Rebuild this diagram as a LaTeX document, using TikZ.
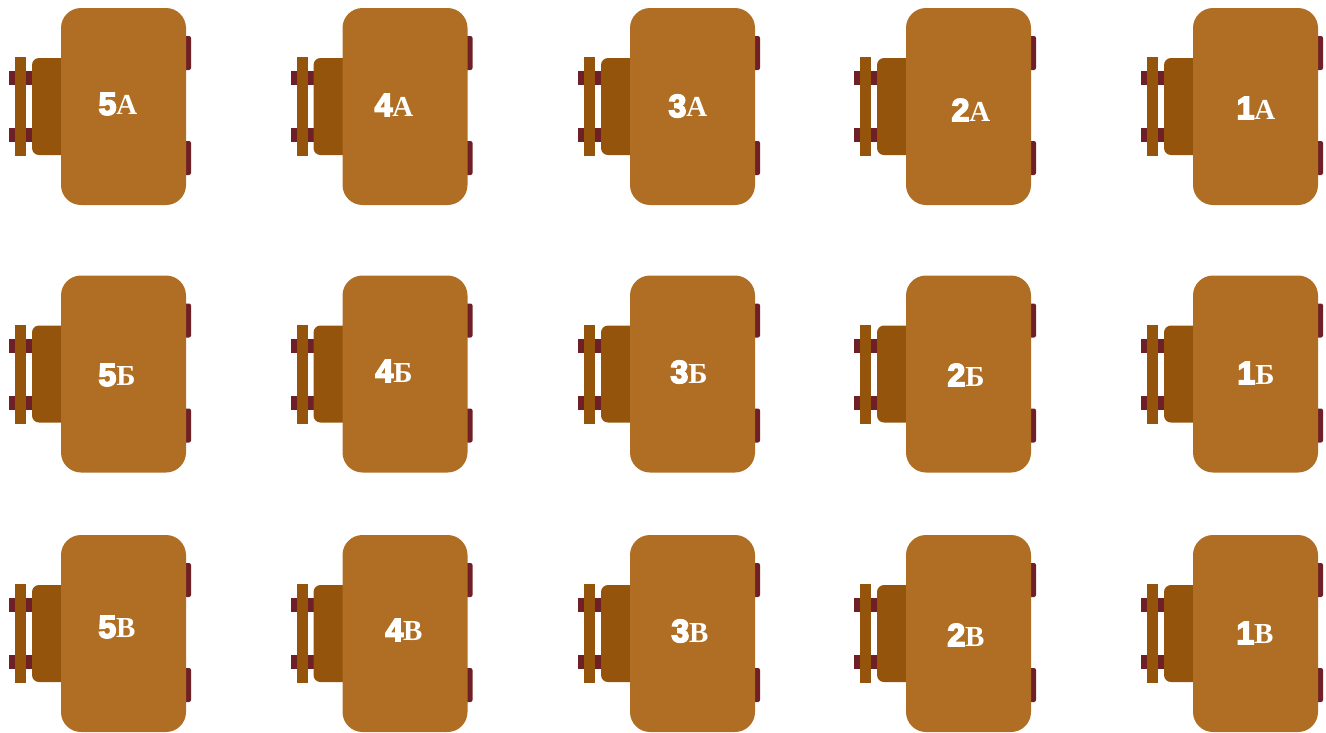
\documentclass[tikz,border=0pt]{standalone}
\usepackage{fontspec}
\setmainfont{Liberation Serif}
\newfontfamily\digitfont[FakeBold=5]{Liberation Sans Bold}
\usepackage{xcolor}
\usetikzlibrary{positioning}
\definecolor{deskbody}{HTML}{AF6E23}
\definecolor{deskback}{HTML}{95540B}
\definecolor{deskpeg}{HTML}{6E2026}
\newcommand{\desklabel}[2]{{\digitfont\fontsize{32}{32}\selectfont #1}{\bfseries\fontsize{29}{29}\selectfont #2}}
\tikzset{
  peg/.style={fill=deskpeg,draw=none},
  backpart/.style={fill=deskback,draw=none},
  bodypart/.style={fill=deskbody,draw=none,rounded corners=20},
  desk/.pic={
    \fill[peg] (-52,63) rectangle (-29,77);
    \fill[peg] (-52,120) rectangle (-29,134);
    \fill[backpart] (-46,49) rectangle (-35,148);
    \fill[backpart,rounded corners=7] (20,50) -- (-29,50) -- (-29,147) -- (20,147) -- cycle;
    \fill[peg,rounded corners=2] (120,28) -- (130,28) -- (130,62) -- (120,62) -- cycle;
    \fill[peg,rounded corners=2] (120,133) -- (130,133) -- (130,167) -- (120,167) -- cycle;
    \fill[bodypart] (0,0) rectangle (125,197);
  },
  deskname/.style={text=white,inner sep=0pt}
}
\begin{document}
\begin{tikzpicture}[x=1pt,y=-1pt]
\useasboundingbox (0,0) rectangle (1326,732);
\foreach \colx in {61,342.5,630,906,1193}
  \foreach \rowy in {8,275.5,535}
    \pic at (\colx,\rowy) {desk};
% row A
\node[deskname] (n5a) at (118,104) {\desklabel{5}{А}};
\node[deskname] (n4a) at (394,105) {\desklabel{4}{А}};
\node[deskname] (n3a) at (688,106) {\desklabel{3}{А}};
\node[deskname] (n2a) at (971,110) {\desklabel{2}{А}};
\node[deskname] (n1a) at (1256,108) {\desklabel{1}{А}};
% row B
\node[deskname] (n5b) at (117,375) {\desklabel{5}{Б}};
\node[deskname] (n4b) at (394,371) {\desklabel{4}{Б}};
\node[deskname] (n3b) at (689,372) {\desklabel{3}{Б}};
\node[deskname] (n2b) at (966,375) {\desklabel{2}{Б}};
\node[deskname] (n1b) at (1256,373) {\desklabel{1}{Б}};
% row C
\node[deskname] (n5c) at (117,627) {\desklabel{5}{В}};
\node[deskname] (n4c) at (404,630) {\desklabel{4}{В}};
\node[deskname] (n3c) at (690,631) {\desklabel{3}{В}};
\node[deskname] (n2c) at (966,635) {\desklabel{2}{В}};
\node[deskname] (n1c) at (1255,633) {\desklabel{1}{В}};
\end{tikzpicture}
\end{document}
